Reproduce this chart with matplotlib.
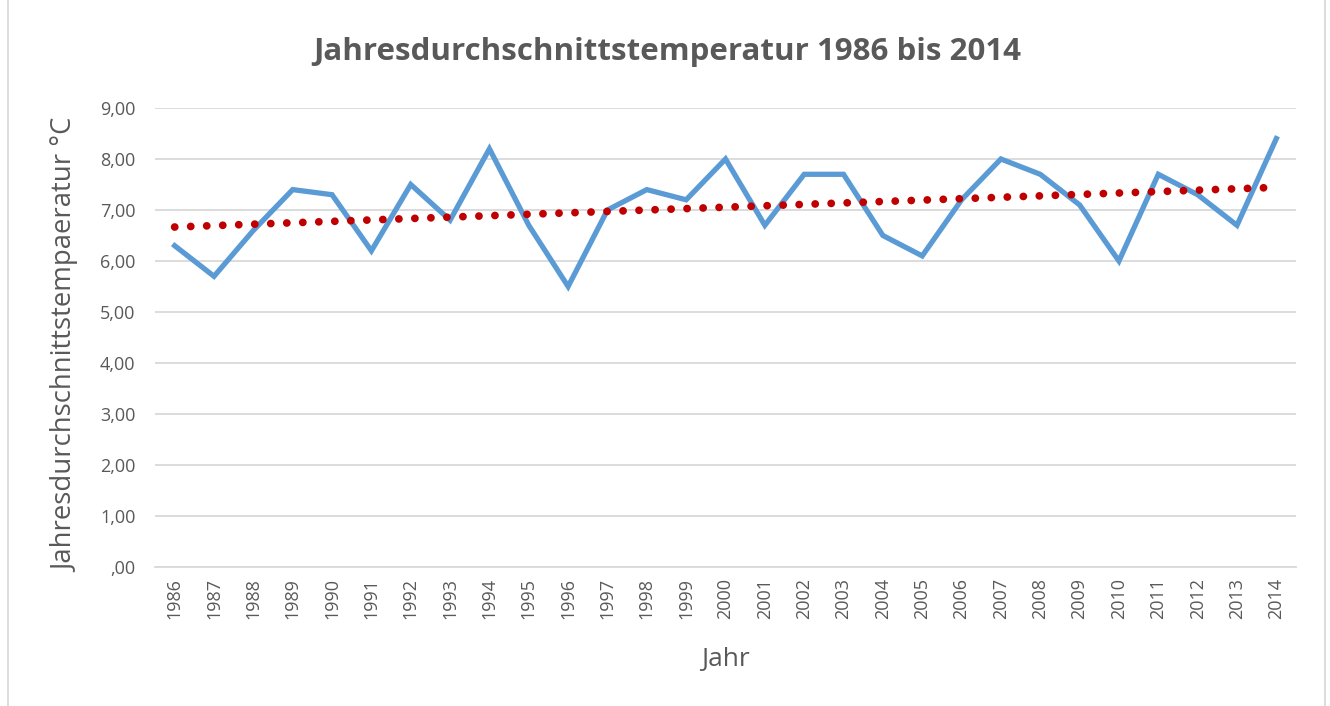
import numpy as np
import matplotlib.pyplot as plt
from matplotlib.patches import Rectangle

# Data
jahre = list(range(1986, 2015))
temperatur = [6.3, 5.7, 6.6, 7.4, 7.3, 6.2, 7.5, 6.8, 8.2, 6.7,
              5.5, 7.0, 7.4, 7.2, 8.0, 6.7, 7.7, 7.7, 6.5, 6.1,
              7.2, 8.0, 7.7, 7.1, 6.0, 7.7, 7.3, 6.7, 8.4]
y_ticks = [0, 1, 2, 3, 4, 5, 6, 7, 8, 9]
y_ticklabels = [',00', '1,00', '2,00', '3,00', '4,00', '5,00', '6,00', '7,00', '8,00', '9,00']

plt.rcParams['font.family'] = ['Open Sans', 'DejaVu Sans']
grey = '#595959'

fig = plt.figure(figsize=(13.3, 7.06), dpi=100)
ax = fig.add_axes([155/1330, 1 - 567/706, 1141/1330, 459/706])

x = np.arange(len(jahre))
ax.plot(x, temperatur, color='#5B9BD5', lw=3.8, solid_joinstyle='miter', zorder=3)

# linear trendline (as Excel does)
k, d = np.polyfit(x, temperatur, 1)
ax.plot(x, k * x + d, color='#C00000', lw=5.6, linestyle=(0, (0.01, 2.05)),
        dash_capstyle='round', zorder=4)

ax.set_xlim(-0.5, len(jahre) - 0.5)
ax.set_ylim(0, 9)
ax.set_yticks(y_ticks)
ax.set_yticklabels(y_ticklabels)
ax.set_xticks(x)
ax.set_xticklabels([str(j) for j in jahre], rotation=90)
ax.tick_params(axis='both', length=0, colors=grey, labelsize=13)
ax.tick_params(axis='y', pad=14)
ax.tick_params(axis='x', pad=8)
ax.grid(axis='y', color='#D9D9D9', lw=1.3)
ax.set_axisbelow(True)
for s in ['top', 'right', 'left']:
    ax.spines[s].set_visible(False)
ax.spines['bottom'].set_color('#D9D9D9')
ax.spines['bottom'].set_linewidth(1.3)

ax.set_ylabel('Jahresdurchschnittstempaeratur °C', fontsize=19.8, color=grey,
              va='center')
ax.yaxis.set_label_coords(-0.078, 0.484)
ax.set_xlabel('Jahr', fontsize=19, color=grey, labelpad=20)
fig.text(667/1330, 1 - 52/706, 'Jahresdurchschnittstemperatur 1986 bis 2014',
         ha='center', va='center', fontsize=22.5, fontweight='bold', color=grey)

fig.patches.append(Rectangle((8/1330, -0.01), 1317/1330, 1.02, transform=fig.transFigure,
                             fill=False, edgecolor='#D9D9D9', lw=1.3))

fig.savefig('out.png', dpi=100)
